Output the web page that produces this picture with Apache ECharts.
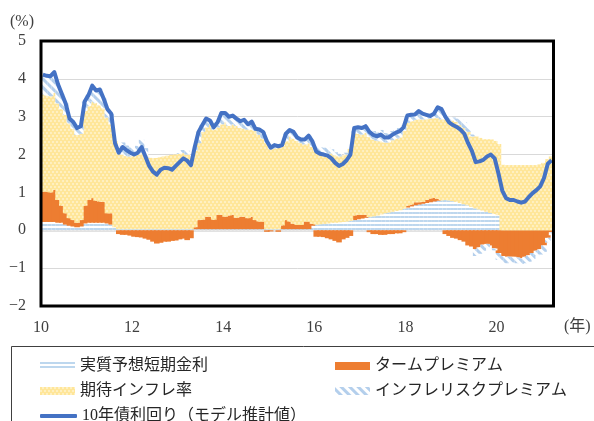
<!DOCTYPE html>
<html><head><meta charset="utf-8">
<script src="https://cdn.jsdelivr.net/npm/echarts@6/dist/echarts.min.js"></script>
<style>html,body{margin:0;padding:0;background:#fff}#c{width:594px;height:421px}</style>
</head><body><div id="c"></div>
<script>
// ---- data (monthly, 2010-01 .. 2021-03) ----
const months = [];
for (let i = 0; i < 135; i++) { const y = 2010 + Math.floor(i / 12), m = i % 12 + 1; months.push(y + '-' + (m < 10 ? '0' : '') + m); }
const tickLabels = ['10', '12', '14', '16', '18', '20'];
const seriesNames = ['実質予想短期金利', 'タームプレミアム', '期待インフレ率', 'インフレリスクプレミアム', '10年債利回り（モデル推計値）'];

const realRate = [
  .22,.22,.22,.22,.20,.20,.15,.12,.10,.08,.10,.18,
  .20,.20,.20,.20,.20,.18,.15,.08,.03,.03,.03,.03,
  .03,.03,.03,.03,.03,.03,.03,.03,.03,.03,.03,.03,
  .03,.03,.03,.03,.03,.03,.03,.03,.03,.03,.03,.03,
  .03,.03,.03,.03,.03,.03,.03,.03,.03,.03,.03,.03,
  .03,.03,.03,.03,.03,.03,.03,.03,.03,.03,.03,.12,
  .15,.16,.17,.18,.20,.20,.21,.22,.23,.25,.27,.29,
  .31,.33,.35,.37,.39,.42,.45,.47,.49,.51,.53,.57,
  .60,.63,.66,.68,.70,.72,.74,.76,.78,.79,.80,.79,
  .77,.75,.72,.69,.66,.62,.58,.55,.52,.49,.46,.43,
  .40,0,0,0,0,0,0,0,0,0,0,0,
  0,0,0];
const termPremium = [
  .80,.80,.78,.85,.60,.45,.30,.20,.17,.12,.17,.47,
  .60,.65,.58,.56,.55,.27,.30,0,-.10,-.12,-.12,-.14,
  -.17,-.18,-.19,-.22,-.25,-.30,-.35,-.33,-.30,-.30,-.28,-.27,
  -.24,-.22,-.26,-.21,.05,.24,.25,.33,.33,.25,.38,.38,
  .33,.36,.38,.30,.33,.33,.29,.33,.24,.20,.20,-.04,
  -.03,0,-.04,.10,.24,.20,.14,.11,.11,.20,.20,.05,
  -.17,-.17,-.18,-.21,-.24,-.28,-.32,-.24,-.20,-.15,.12,.12,
  .10,.08,-.05,-.10,-.10,-.12,-.12,-.10,-.10,-.08,-.08,-.05,
  .05,.05,.08,.06,.05,.08,.10,.10,.05,0,-.10,-.15,
  -.20,-.22,-.26,-.30,-.40,-.43,-.50,-.45,-.38,-.36,-.40,-.48,
  -.60,-.68,-.70,-.70,-.70,-.72,-.74,-.70,-.66,-.60,-.54,-.50,
  -.40,-.20,-.05];
const expInflation = [
  2.57,2.54,2.54,2.56,2.55,2.55,2.60,2.50,2.41,2.32,2.28,2.50,
  2.48,2.55,2.58,2.54,2.47,2.53,2.35,2.27,2.02,1.97,1.93,1.92,
  1.94,1.97,2.01,1.95,1.89,1.87,1.88,1.90,1.92,1.94,1.96,1.97,
  1.99,2.01,1.97,1.92,2.02,2.03,2.32,2.36,2.42,2.38,2.31,2.39,
  2.49,2.37,2.39,2.43,2.34,2.32,2.34,2.30,2.35,2.29,2.19,2.27,
  2.11,2.13,2.15,2.09,2.08,2.25,2.25,2.22,2.16,2.04,2.07,2.03,
  1.93,1.86,1.83,1.84,1.83,1.78,1.74,1.76,1.77,1.90,2.18,2.14,
  2.12,2.16,2.11,2.03,1.98,1.93,1.87,1.85,1.89,1.91,1.92,2.05,
  2.19,2.20,2.18,2.19,2.18,2.13,2.11,2.10,2.14,2.14,2.13,2.14,
  2.13,2.11,2.06,2.01,1.94,1.86,1.90,1.89,1.88,1.91,1.94,1.93,
  1.88,1.73,1.72,1.72,1.72,1.72,1.72,1.72,1.72,1.72,1.72,1.74,
  1.78,1.88,1.95];
const inflRiskPremium = [
  .52,.52,.53,.55,.50,.40,.30,.13,.18,.18,.20,.25,
  .29,.42,.33,.42,.26,.22,.28,0,.10,.32,.28,.24,
  .20,.23,.35,.19,.03,0,0,0,0,0,0,0,
  .02,.08,.10,0,.10,.30,.18,.23,.12,.06,.13,.30,
  .25,.24,.23,.19,.18,.24,.14,.21,.06,.14,.18,.09,
  .07,.09,.08,.03,.20,.17,.18,.09,.10,.13,.20,.15,
  .17,.17,.18,.16,.11,.08,.07,.01,.05,0,.13,.17,
  .17,.18,.19,.22,.21,.30,.25,.23,.24,.24,.25,.15,
  .19,.17,.14,.22,.15,.12,.07,.12,.28,.27,.17,.07,
  .08,.09,.14,.15,.10,.05,-.18,-.17,-.16,-.09,0,-.05,
  -.18,-.12,-.17,-.15,-.15,-.15,-.15,-.17,-.17,-.16,-.14,-.14,
  -.17,-.12,-.08];
const yield10 = [
  4.11,4.08,4.07,4.18,3.85,3.60,3.35,2.95,2.86,2.70,2.75,3.40,
  3.57,3.82,3.69,3.72,3.48,3.20,3.08,2.30,2.05,2.20,2.12,2.05,
  2.00,2.05,2.20,1.95,1.70,1.55,1.47,1.60,1.65,1.64,1.60,1.70,
  1.80,1.90,1.84,1.72,2.20,2.60,2.78,2.95,2.90,2.72,2.85,3.10,
  3.10,3.00,3.03,2.95,2.88,2.92,2.80,2.87,2.68,2.66,2.60,2.35,
  2.18,2.25,2.22,2.25,2.55,2.65,2.60,2.45,2.40,2.40,2.50,2.35,
  2.08,2.02,2.00,1.97,1.90,1.78,1.70,1.75,1.85,2.00,2.70,2.72,
  2.70,2.75,2.60,2.52,2.48,2.53,2.45,2.45,2.52,2.58,2.62,2.72,
  3.03,3.05,3.06,3.15,3.08,3.05,3.02,3.08,3.25,3.20,3.00,2.85,
  2.78,2.73,2.66,2.55,2.30,2.10,1.80,1.82,1.86,1.95,2.00,1.90,
  1.50,1.05,0.85,0.80,0.80,0.76,0.73,0.76,0.88,0.98,1.06,1.16,
  1.38,1.76,1.85];

// ---- chart ----
const FONT = "'Liberation Serif', 'Noto Sans CJK JP', serif";
const chart = echarts.init(document.getElementById('c'), null, {renderer: 'canvas'});
const barCommon = {type: 'bar', stack: 'total', barWidth: '100%', barMinWidth: 5.6, xAxisIndex: 0, yAxisIndex: 0};
chart.setOption({
  animation: false,
  backgroundColor: '#ffffff',
  textStyle: {fontFamily: FONT},
  grid: {left: 41, top: 41, width: 512.5, height: 265, show: true, borderColor: '#000', borderWidth: 3, z: 10, containLabel: false},
  xAxis: [{
    type: 'category', data: months, boundaryGap: true,
    axisLine: {show: true, onZero: true, lineStyle: {color: '#D9D9D9', width: 1.5}},
    axisTick: {show: true, inside: true, length: 5, interval: 23, lineStyle: {color: '#BFBFBF'}},
    axisLabel: {show: false}, splitLine: {show: false}
  }, {
    type: 'value', min: 0, max: 135, interval: 24, position: 'bottom',
    axisLine: {show: false, onZero: false}, axisTick: {show: false}, splitLine: {show: false},
    axisLabel: {
      show: true, margin: 14, fontSize: 16, color: '#404040', fontFamily: FONT, showMaxLabel: false,
      formatter: v => (v % 24 === 0 && tickLabels[v / 24] !== undefined) ? tickLabels[v / 24] : ''
    }
  }],
  yAxis: {
    type: 'value', min: -2, max: 5, interval: 1,
    axisLine: {show: false}, axisTick: {show: false},
    splitLine: {show: true, lineStyle: {color: '#D9D9D9', width: 1}},
    axisLabel: {fontSize: 16, color: '#404040', margin: 15, fontFamily: FONT,
      formatter: v => v < 0 ? '\u2212' + Math.abs(v) : String(v)}
  },
  legend: [{
    data: [seriesNames[0], seriesNames[2]], orient: 'vertical', left: 35, top: 351,
    itemWidth: 35, itemHeight: 8, itemGap: 5, icon: 'rect', selectedMode: false,
    textStyle: {fontSize: 16, color: '#262626', fontFamily: FONT, lineHeight: 20}
  }, {
    data: [seriesNames[1], seriesNames[3]], orient: 'vertical', left: 330, top: 351,
    itemWidth: 35, itemHeight: 8, itemGap: 5, icon: 'rect', selectedMode: false,
    textStyle: {fontSize: 16, color: '#262626', fontFamily: FONT, lineHeight: 20}
  }, {
    data: [seriesNames[4]], orient: 'vertical', left: 35, top: 401,
    itemWidth: 37, itemHeight: 4, icon: 'roundRect', selectedMode: false,
    textStyle: {fontSize: 16, color: '#262626', fontFamily: FONT, lineHeight: 20}
  }],
  graphic: [
    {type: 'text', left: 10, top: 14, style: {text: '(%)', fontSize: 16, fill: '#404040', fontFamily: FONT}},
    {type: 'text', left: 564, top: 319, style: {text: '(年)', fontSize: 16, fill: '#404040', fontFamily: FONT}},
    {type: 'rect', shape: {x: 11.5, y: 346.5, width: 600, height: 100}, style: {fill: 'none', stroke: '#404040', lineWidth: 1}, z: -1}
  ],
  series: [
    Object.assign({}, barCommon, {name: seriesNames[0], data: realRate,
      itemStyle: {color: '#ffffff', decal: {symbol: 'rect', symbolSize: 1, symbolKeepAspect: false, color: '#BDD7EE', dashArrayX: [[8, 0]], dashArrayY: [1.5, 1.5]}}}),
    Object.assign({}, barCommon, {name: seriesNames[1], data: termPremium,
      itemStyle: {color: '#ED7D31'}}),
    Object.assign({}, barCommon, {name: seriesNames[2], data: expInflation,
      itemStyle: {color: '#FFE699', decal: {symbol: 'circle', symbolSize: 0.8, color: 'rgba(255,255,255,0.9)', dashArrayX: [[1.5, 1.5], [0, 1.5, 1.5, 0]], dashArrayY: [1.5, 1]}}}),
    Object.assign({}, barCommon, {name: seriesNames[3], data: inflRiskPremium,
      itemStyle: {color: '#ffffff', decal: {symbol: 'rect', symbolSize: 1, symbolKeepAspect: false, color: '#B4CFEC', dashArrayX: [[8, 0]], dashArrayY: [2.5, 2.5], rotation: Math.PI / 4}}}),
    {type: 'line', name: seriesNames[4], data: yield10, xAxisIndex: 0, yAxisIndex: 0,
      symbol: 'none', showSymbol: false, z: 5,
      lineStyle: {color: '#4472C4', width: 4, join: 'round'}, itemStyle: {color: '#4472C4'}}
  ]
});
</script></body></html>
